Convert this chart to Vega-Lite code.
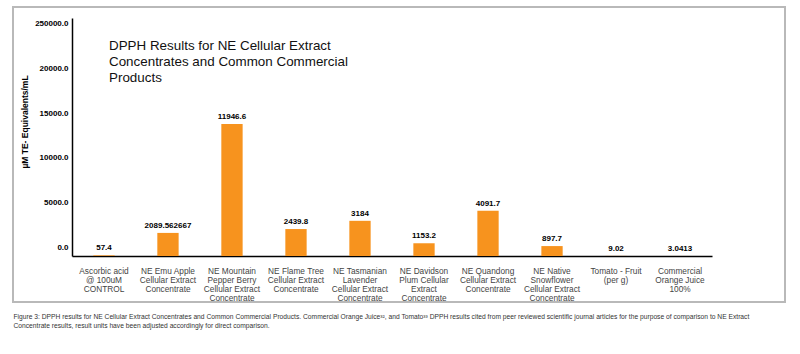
{
  "$schema": "https://vega.github.io/schema/vega-lite/v6.json",
  "width": 772,
  "height": 295,
  "autosize": {"type": "none"},
  "padding": {"left": 13, "top": 7, "right": 15, "bottom": 52},
  "background": "white",
  "config": {"view": {"stroke": "#b9b9b9", "strokeWidth": 2}, "font": "Liberation Sans"},
  "title": {
    "text": ["DPPH Results for NE Cellular Extract", "Concentrates and Common Commercial", "Products"],
    "anchor": "start", "frame": "group", "orient": "top",
    "fontSize": 13.4, "fontWeight": "normal", "lineHeight": 16, "color": "#111",
    "baseline": "top", "offset": 0, "dx": 96, "dy": 77
  },
  "layer": [
    {
      "data": {"values": [
        {"cat": "Ascorbic acid|@ 100uM|CONTROL", "value": 57.4, "label": "57.4"},
        {"cat": "NE Emu Apple|Cellular Extract|Concentrate", "value": 2089.562667, "label": "2089.562667"},
        {"cat": "NE Mountain|Pepper Berry|Cellular Extract|Concentrate", "value": 11946.6, "label": "11946.6"},
        {"cat": "NE Flame Tree|Cellular Extract|Concentrate", "value": 2439.8, "label": "2439.8"},
        {"cat": "NE Tasmanian|Lavender|Cellular Extract|Concentrate", "value": 3184, "label": "3184"},
        {"cat": "NE Davidson|Plum Cellular|Extract|Concentrate", "value": 1153.2, "label": "1153.2"},
        {"cat": "NE Quandong|Cellular Extract|Concentrate", "value": 4091.7, "label": "4091.7"},
        {"cat": "NE Native|Snowflower|Cellular Extract|Concentrate", "value": 897.7, "label": "897.7"},
        {"cat": "Tomato - Fruit|(per g)", "value": 9.02, "label": "9.02"},
        {"cat": "Commercial|Orange Juice|100%", "value": 3.0413, "label": "3.0413"}
      ]},
      "layer": [
        {
          "mark": {"type": "bar", "color": "#F7931E"},
          "encoding": {
            "x": {
              "field": "cat", "type": "nominal", "sort": null,
              "scale": {"range": [59, 699], "paddingInner": 0.667, "paddingOuter": 0.333},
              "axis": {
                "orient": "bottom", "offset": -46,
                "domainColor": "#000", "domainWidth": 1.5, "ticks": false,
                "labelAngle": 0, "labelExpr": "split(datum.label, '|')",
                "labelFontSize": 8.3, "labelColor": "#444", "labelLineHeight": 9.3,
                "labelPadding": 10, "labelBaseline": "top", "labelOverlap": false, "labelBound": false,
                "title": ["Figure 3: DPPH results for NE Cellular Extract Concentrates and Common Commercial Products. Commercial Orange Juice³², and Tomato³³ DPPH results cited from peer reviewed scientific journal articles for the purpose of comparison to NE Extract", "Concentrate results, result units have been adjusted accordingly for direct comparison."],
                "titleX": 0, "titleY": 57, "titleAlign": "left", "titleAnchor": "start",
                "titleBaseline": "top", "titleFontSize": 6.7, "titleFontWeight": "normal",
                "titleColor": "#333", "titleLineHeight": 9.5, "titleAngle": 0
              }
            },
            "y": {
              "field": "value", "type": "quantitative",
              "scale": {"domain": [0, 21541], "range": [249, 11], "nice": false, "zero": true},
              "axis": null
            }
          }
        },
        {
          "mark": {"type": "text", "fontWeight": "bold", "fontSize": 8, "dy": -5, "baseline": "alphabetic", "color": "#000"},
          "encoding": {
            "x": {"field": "cat", "type": "nominal", "sort": null},
            "y": {"field": "value", "type": "quantitative"},
            "text": {"field": "label"}
          }
        }
      ]
    },
    {
      "data": {"values": [{"t": 0}, {"t": 25000}]},
      "mark": {"type": "point", "opacity": 0},
      "encoding": {
        "y": {
          "field": "t", "type": "quantitative",
          "scale": {"domain": [-925, 25590], "range": [249, 11], "nice": false, "zero": false},
          "axis": {
            "orient": "left", "offset": -59,
            "values": [0, 5000, 10000, 15000, 20000, 25000],
            "labelExpr": "datum.value == 25000 ? '250000.0' : format(datum.value, '.1f')",
            "domainColor": "#000", "domainWidth": 1.5, "ticks": false, "grid": false,
            "labelFontSize": 8, "labelFontWeight": "bold", "labelColor": "#000", "labelPadding": 4,
            "title": "µM TE- Equivalents/mL", "titleFontSize": 8.5, "titleFontWeight": "bold",
            "titleColor": "#000", "titleX": -48, "titleY": 114.5, "titleAngle": -90,
            "titleAlign": "center", "titleBaseline": "middle"
          }
        }
      }
    }
  ],
  "resolve": {"scale": {"y": "independent"}}
}
